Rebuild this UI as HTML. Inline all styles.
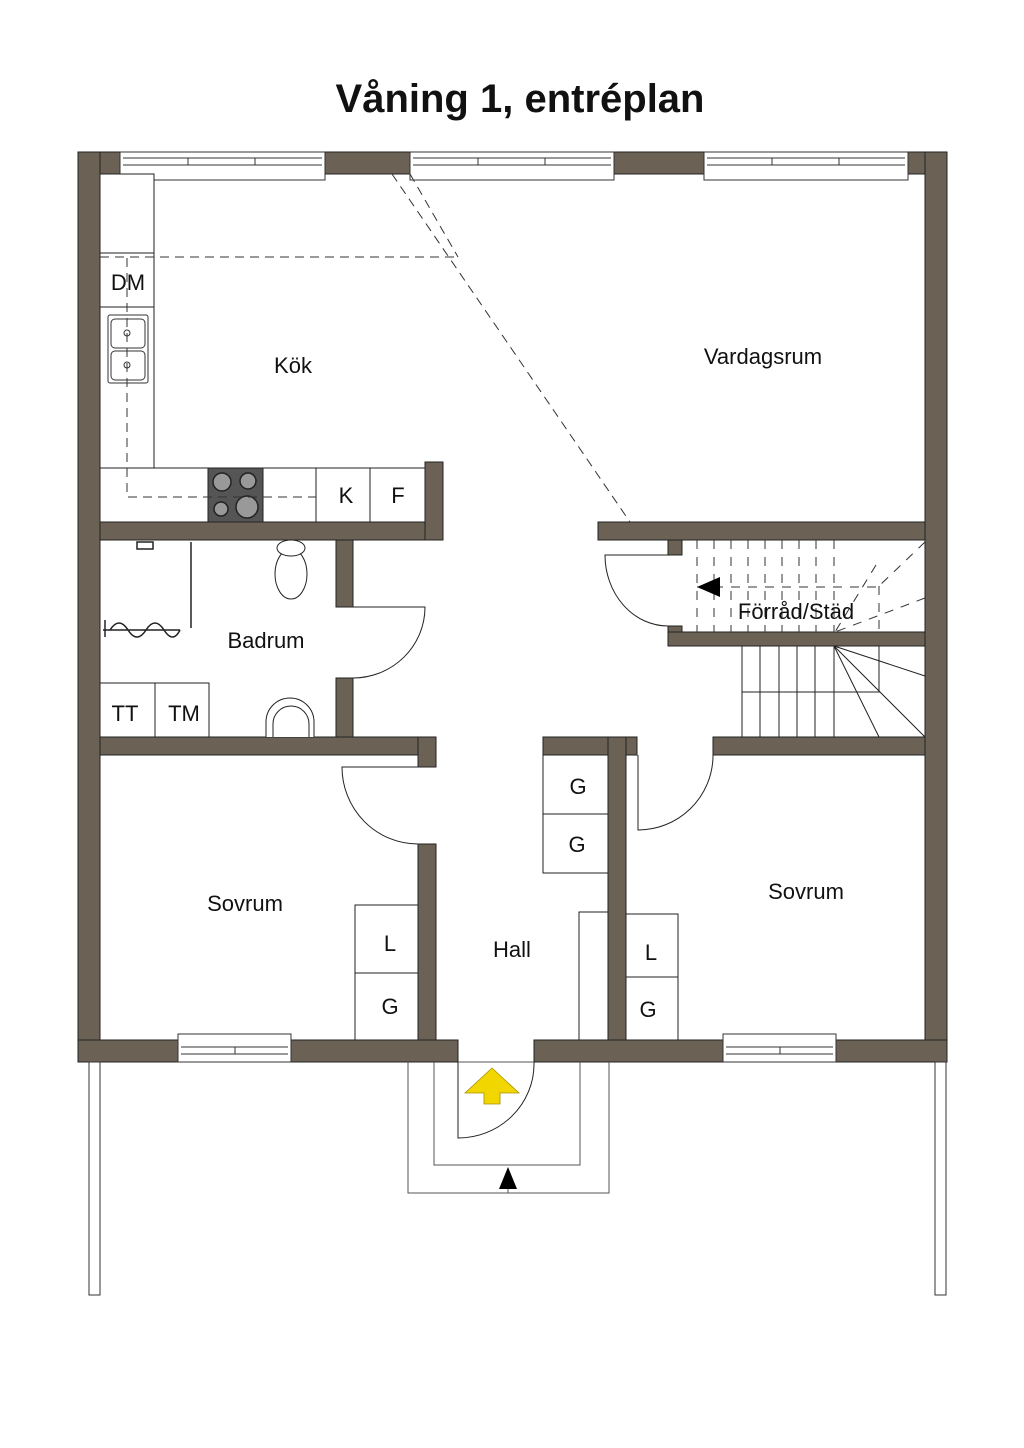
<!DOCTYPE html>
<html><head><meta charset="utf-8"><style>
html,body{margin:0;padding:0;background:#fff;}
svg{display:block;}
text{font-family:"Liberation Sans",sans-serif;fill:#111;}
</style></head><body>
<svg width="1024" height="1448" viewBox="0 0 1024 1448" xmlns="http://www.w3.org/2000/svg">
<text x="520" y="112" font-size="40" text-anchor="middle" font-weight="bold">Våning 1, entréplan</text>

<g fill="#6b6255" stroke="#222" stroke-width="1">
<!-- outer -->
<rect x="78" y="152" width="869" height="22"/>
<rect x="78" y="152" width="22" height="910"/>
<rect x="925" y="152" width="22" height="910"/>
<rect x="78" y="1040" width="380" height="22"/>
<rect x="534" y="1040" width="413" height="22"/>
<!-- kitchen -->
<rect x="100" y="522" width="343" height="18"/>
<rect x="425" y="462" width="18" height="78"/>
<!-- bathroom -->
<rect x="336" y="540" width="17" height="67"/>
<rect x="336" y="678" width="17" height="77"/>
<rect x="100" y="737" width="336" height="18"/>
<rect x="418" y="737" width="18" height="30"/>
<rect x="418" y="844" width="18" height="196"/>
<!-- right -->
<rect x="598" y="522" width="327" height="18"/>
<rect x="668" y="540" width="14" height="15"/>
<rect x="668" y="626" width="14" height="20"/>
<rect x="668" y="632" width="257" height="14"/>
<rect x="543" y="737" width="94" height="18"/>
<rect x="608" y="737" width="18" height="303"/>
<rect x="713" y="737" width="212" height="18"/>
</g>

<!-- windows -->
<g fill="#fff" stroke="#333" stroke-width="1">
<rect x="120" y="152" width="205" height="28"/>
<rect x="410" y="152" width="204" height="28"/>
<rect x="704" y="152" width="204" height="28"/>
<rect x="178" y="1034" width="113" height="28"/>
<rect x="723" y="1034" width="113" height="28"/>
</g>
<g stroke="#333" stroke-width="1" fill="none">
<path d="M123 158H322M123 165H322M188 158V165M255 158V165"/>
<path d="M413 158H611M413 165H611M478 158V165M545 158V165"/>
<path d="M707 158H905M707 165H905M772 158V165M839 158V165"/>
<path d="M181 1047H288M181 1054H288M235 1047V1054"/>
<path d="M726 1047H833M726 1054H833M780 1047V1054"/>
</g>

<!-- kitchen counters -->
<g fill="#fff" stroke="#222" stroke-width="1">
<rect x="100" y="174" width="54" height="294"/>
<rect x="100" y="468" width="325" height="54"/>
<line x1="100" y1="253" x2="154" y2="253"/>
<line x1="100" y1="307" x2="154" y2="307"/>
<line x1="316" y1="468" x2="316" y2="522"/>
<line x1="370" y1="468" x2="370" y2="522"/>
</g>
<rect x="208" y="468" width="55" height="54" fill="#555" stroke="#222"/>
<g fill="#999" stroke="#222" stroke-width="1.5">
<circle cx="222" cy="482" r="9"/><circle cx="248" cy="481" r="8"/>
<circle cx="221" cy="509" r="7"/><circle cx="247" cy="507" r="11"/>
</g>
<!-- sink -->
<g fill="#fff" stroke="#333" stroke-width="1">
<rect x="108" y="315" width="40" height="68" rx="2"/>
<rect x="111" y="319" width="34" height="29" rx="4"/>
<rect x="111" y="351" width="34" height="29" rx="4"/>
<circle cx="127" cy="333" r="3"/><circle cx="127" cy="365" r="3"/>
</g>
<g stroke="#333" stroke-width="1" fill="none" stroke-dasharray="9 6">
<path d="M127 258V497H316"/>
<path d="M100 257H455"/>
<path d="M392 174L630 522"/>
<path d="M410 174L458 257"/>
</g>
<text x="128" y="290" font-size="22" text-anchor="middle">DM</text>
<text x="346" y="503" font-size="22" text-anchor="middle">K</text>
<text x="398" y="503" font-size="22" text-anchor="middle">F</text>
<text x="293" y="373" font-size="22" text-anchor="middle">Kök</text>
<text x="763" y="364" font-size="22" text-anchor="middle">Vardagsrum</text>

<!-- bathroom -->
<g fill="#fff" stroke="#222" stroke-width="1">
<rect x="100" y="683" width="55" height="54"/>
<rect x="155" y="683" width="54" height="54"/>
<ellipse cx="291" cy="574" rx="16" ry="25"/>
<ellipse cx="291" cy="548" rx="14" ry="8"/>
<path d="M266 737V722A24 24 0 0 1 314 722V737"/>
<path d="M273 737V724A18 18 0 0 1 309 724V737"/>
</g>
<g stroke="#222" stroke-width="1.5" fill="none">
<line x1="191" y1="542" x2="191" y2="628"/>
<line x1="103" y1="630" x2="180" y2="630"/>
<line x1="105" y1="620" x2="105" y2="637"/>
<path d="M110 630q9-14 18 0q9 14 18 0q9-14 18 0q9 14 16 0"/>
<rect x="137" y="542" width="16" height="7"/>
</g>
<text x="125" y="721" font-size="22" text-anchor="middle">TT</text>
<text x="184" y="721" font-size="22" text-anchor="middle">TM</text>
<text x="266" y="648" font-size="22" text-anchor="middle">Badrum</text>

<!-- doors -->
<g stroke="#222" stroke-width="1" fill="none">
<path d="M353 607H425A72 71 0 0 1 353 678"/>
<path d="M418 767H342A76 77 0 0 0 418 844"/>
<path d="M668 555H605A63 71 0 0 0 668 626"/>
<path d="M713 755V757A75 75 0 0 1 638 830V755"/>
<path d="M534 1062V1064A76 74 0 0 1 458 1138V1062"/>
</g>

<!-- förråd dashed stairs -->
<g stroke="#333" stroke-width="1" fill="none" stroke-dasharray="9 8">
<path d="M697 540V632M714 540V632M731 540V632M748 540V632M765 540V632M782 540V632M799 540V632M816 540V632M834 540V632M879 586V632"/>
<path d="M697 587H879"/>
<path d="M876 565L835 632M925 542L879 586M925 598L835 632"/>
</g>
<polygon points="697,587 720,577 720,597" fill="#000"/>
<text x="796" y="619" font-size="22" text-anchor="middle">Förråd/Städ</text>

<!-- stairs -->
<g stroke="#222" stroke-width="1" fill="none">
<path d="M742 646V737M760 646V737M779 646V737M797 646V737M815 646V737M834 646V737"/>
<path d="M742 692H879V646"/>
<path d="M834 646L925 676M834 646L925 737M834 646L879 737"/>
</g>

<!-- closets -->
<g fill="#fff" stroke="#222" stroke-width="1">
<rect x="543" y="755" width="65" height="59"/>
<rect x="543" y="814" width="65" height="59"/>
<rect x="355" y="905" width="63" height="68"/>
<rect x="355" y="973" width="63" height="67"/>
<rect x="579" y="912" width="29" height="128"/>
<rect x="626" y="914" width="52" height="63"/>
<rect x="626" y="977" width="52" height="63"/>
</g>
<text x="578" y="794" font-size="22" text-anchor="middle">G</text>
<text x="577" y="852" font-size="22" text-anchor="middle">G</text>
<text x="390" y="951" font-size="22" text-anchor="middle">L</text>
<text x="390" y="1014" font-size="22" text-anchor="middle">G</text>
<text x="651" y="960" font-size="22" text-anchor="middle">L</text>
<text x="648" y="1017" font-size="22" text-anchor="middle">G</text>
<text x="245" y="911" font-size="22" text-anchor="middle">Sovrum</text>
<text x="806" y="899" font-size="22" text-anchor="middle">Sovrum</text>
<text x="512" y="957" font-size="22" text-anchor="middle">Hall</text>

<!-- entrance -->
<g stroke="#555" stroke-width="1" fill="none">
<path d="M408 1062V1193H609V1062"/>
<path d="M434 1062V1165H580V1062"/>
<line x1="458" y1="1062" x2="534" y2="1062"/>
<line x1="508" y1="1168" x2="508" y2="1193"/>
</g>
<polygon points="508,1167 499,1189 517,1189" fill="#000"/>
<polygon points="492,1068 465,1093 484,1093 484,1104 500,1104 500,1093 519,1093" fill="#f2d600" stroke="#a89000" stroke-width="0.8"/>

<!-- posts -->
<g fill="#fff" stroke="#333" stroke-width="1">
<rect x="89" y="1062" width="11" height="233"/>
<rect x="935" y="1062" width="11" height="233"/>
</g>
</svg>
</body></html>
